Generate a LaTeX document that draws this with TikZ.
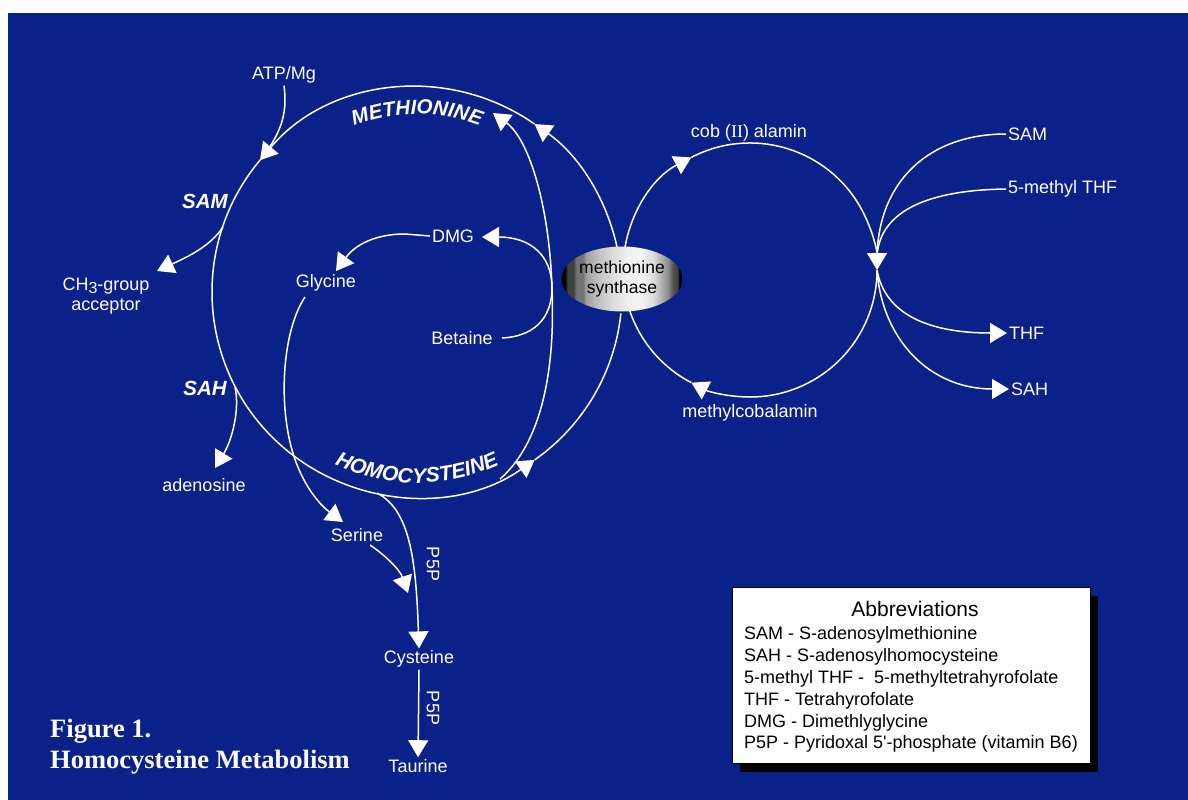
\documentclass[tikz,border=0pt]{standalone}
\usepackage{fontspec}
\setmainfont{Liberation Sans}
\newfontfamily\figfont{Liberation Serif}
\usetikzlibrary{arrows.meta,shapes.geometric,decorations.text,calc}
\definecolor{bgblue}{RGB}{10,33,137}
\pgfdeclarehorizontalshading{enzshade}{100bp}{color(0bp)=(black); color(25bp)=(black); color(26.5bp)=(black); color(27.5bp)=(black!75); color(30bp)=(black!75); color(31bp)=(black!55); color(34bp)=(black!55); color(35bp)=(black!38); color(40bp)=(black!25); color(46bp)=(black!14); color(52bp)=(black!6); color(58bp)=(black!5); color(63bp)=(black!14); color(66bp)=(black!30); color(69bp)=(black!45); color(71bp)=(black!68); color(73bp)=(black!75); color(73.6bp)=(black); color(75bp)=(black); color(100bp)=(black)}
\begin{document}
\begin{tikzpicture}[x=1pt,y=-1pt,
  wl/.style={white, line width=1.5pt},
  arr/.style={-{Triangle[length=17pt,width=20pt]}},
  lbl/.style={text=white, font=\fontsize{18}{20}\selectfont, inner sep=2pt},
  bilbl/.style={text=white, font=\fontsize{20.5}{20}\selectfont\bfseries\itshape, inner sep=0pt},
  abtxt/.style={anchor=west, text=black, font=\fontsize{18}{18}\selectfont, inner sep=0pt},
  figtxt/.style={anchor=base west, text=white, font=\figfont\bfseries\fontsize{26.5}{26}\selectfont, inner sep=0pt},
  curvetxt/.style 2 args={decorate, decoration={text along path, text align=center, text color=white,
     text={|\fontsize{#1}{20}\selectfont\bfseries\itshape|#2}}}
]
\useasboundingbox (0,0) rectangle (1188,800);
\fill[white] (0,0) rectangle (1188,800);
\fill[bgblue] (8,13) rectangle (1188,800);

% circle centres
\coordinate (C1) at (417,292);
\coordinate (C2) at (750,270);

% labels
\node[lbl] (atp) at (284,75) {ATP/Mg};
\node[bilbl] (samL) at (205,201) {SAM};
\node[bilbl] (sahL) at (205,388) {SAH};
\node[lbl, align=center] (ch3) at (106,296) {CH\raisebox{-3pt}{\fontsize{16}{16}\selectfont 3}-group\\acceptor};
\node[lbl] (adeno) at (204,485) {adenosine};
\node[lbl] (gly) at (326,283) {Glycine};
\node[lbl] (dmg) at (453,236) {DMG};
\node[lbl] (bet) at (462,338) {Betaine};
\node[lbl] (ser) at (357,535) {Serine};
\node[lbl] (cys) at (419,659) {Cysteine};
\node[lbl] (tau) at (418,766) {Taurine};
\node[lbl, rotate=-90] (p5pa) at (433,564) {P5P};
\node[lbl, rotate=-90] (p5pb) at (433,708) {P5P};
\node[lbl] (cob) at (749,133) {cob ({\figfont II}) alamin};
\node[lbl] (mcob) at (750,413) {methylcobalamin};
\node[lbl, anchor=west] (samR) at (1006,134) {SAM};
\node[lbl, anchor=west] (mthf) at (1006,189) {5-methyl THF};
\node[lbl, anchor=west] (thf) at (1007,333) {THF};
\node[lbl, anchor=west] (sahR) at (1009,389) {SAH};

% curved labels
\path[curvetxt={20.5}{METHIONINE}] ([shift={(-125:178)}]C1) arc[start angle=-125, end angle=-55, radius=178];
\path[curvetxt={21}{HOMOCYSTEINE}] ([shift={(123:191)}]C1) arc[start angle=123, end angle=57, radius=191];

% big cycle
\draw[wl,arr] ([shift={(-6:205)}]C1) arc[start angle=-6, end angle=-55, radius=205];
\draw[wl,arr] ([shift={(-55:205)}]C1) arc[start angle=-55, end angle=-140, radius=205];
\draw[wl,arr] ([shift={(-140:205)}]C1) arc[start angle=-140, end angle=-305, radius=205];
\draw[wl] ([shift={(55:205)}]C1) arc[start angle=55, end angle=6, radius=205];

% right cycle
\draw[wl,arr] ([shift={(180:127)}]C2) arc[start angle=180, end angle=242.5, radius=127];
\draw[wl,arr] ([shift={(242.5:127)}]C2) arc[start angle=242.5, end angle=360, radius=127];
\draw[wl,arr] ([shift={(0:127)}]C2) arc[start angle=360, end angle=477.5, radius=127];
\draw[wl] ([shift={(117.5:127)}]C2) arc[start angle=477.5, end angle=540, radius=127];

% junction coordinates
\coordinate (atpJ) at ([shift={(-140:205)}]C1);
\coordinate (samJ) at (223,227);
\coordinate (sahJ) at (235,387);
\coordinate (hcyB) at (500,479);
\coordinate (hcyC) at (377,493);
\coordinate (metT) at (493,113);
\coordinate (ch3T) at (157,271);
\coordinate (adT) at (215,468);
\coordinate (dmgT) at (482,237);
\coordinate (betS) at (502,338);
\coordinate (glyT) at (336,271);
\coordinate (glyS) at (305,297);
\coordinate (serT) at (343,522);
\coordinate (serS) at (370,545);
\coordinate (serE) at (408,593);
\coordinate (rIn) at (877,256);
\coordinate (rJ) at (877,270);

% left branches
\draw[wl] (atp.south) .. controls (288,115) and (280,135) .. (atpJ);
\draw[wl,arr] (samJ) .. controls (210,247) and (185,258) .. (ch3T);
\draw[wl,arr] (sahJ) .. controls (240,410) and (232,440) .. (adT);

% betaine pathway
\draw[wl,arr] (hcyB) .. controls (545,440) and (555,360) .. (552,290) .. controls (550,210) and (530,140) .. (metT);
\draw[wl,arr] (betS) .. controls (540,336) and (552,312) .. (552,288) .. controls (552,255) and (530,237) .. (dmgT);
\draw[wl,arr] (dmg.west) -- (405,234) .. controls (375,234) and (355,245) .. (glyT);
\draw[wl,arr] (glyS) .. controls (283,330) and (278,400) .. (292,450) .. controls (302,485) and (320,505) .. (serT);

% transsulfuration
\draw[wl,arr] (hcyC) .. controls (410,510) and (416,560) .. (cys.north);
\draw[wl,arr] (serS) .. controls (385,555) and (400,570) .. (serE);
\draw[wl,arr] (cys.south) -- (tau.north);

% right branches
\draw[wl] (samR.west) .. controls (930,134) and (879,180) .. (rIn);
\draw[wl] (mthf.west) .. controls (930,190) and (880,210) .. (rIn);
\draw[wl,arr] (rJ) .. controls (885,315) and (930,333) .. (thf.west);
\draw[wl,arr] (rJ) .. controls (882,340) and (930,389) .. (sahR.west);

% enzyme
\node[ellipse, shading=enzshade, minimum width=114pt, minimum height=65pt, inner sep=0pt,
      align=center, text=black, font=\fontsize{17.5}{20}\selectfont] (enz) at (622,279) {methionine\\synthase};

% abbreviations box
\fill[black] (740,596) rectangle (1098,772);
\node[draw=black, fill=white, line width=0.8pt, minimum width=358pt, minimum height=176pt, inner sep=0pt] (abbr) at (911,675) {};
\node[text=black, font=\fontsize{21}{21}\selectfont, inner sep=0pt] (abt) at (915,609) {Abbreviations};
\node[abtxt] (ab1) at (744,635) {SAM - S-adenosylmethionine};
\node[abtxt] (ab2) at (744,657) {SAH - S-adenosylhomocysteine};
\node[abtxt] (ab3) at (744,679) {5-methyl THF -\ \ 5-methyltetrahyrofolate};
\node[abtxt] (ab4) at (744,701) {THF - Tetrahyrofolate};
\node[abtxt] (ab5) at (744,723) {DMG - Dimethlyglycine};
\node[abtxt] (ab6) at (744,744) {P5P - Pyridoxal 5\textquotesingle-phosphate (vitamin B6)};

% figure caption
\node[figtxt] (fig1) at (50,737) {Figure 1.};
\node[figtxt] (fig2) at (50,768) {Homocysteine Metabolism};
\end{tikzpicture}
\end{document}
